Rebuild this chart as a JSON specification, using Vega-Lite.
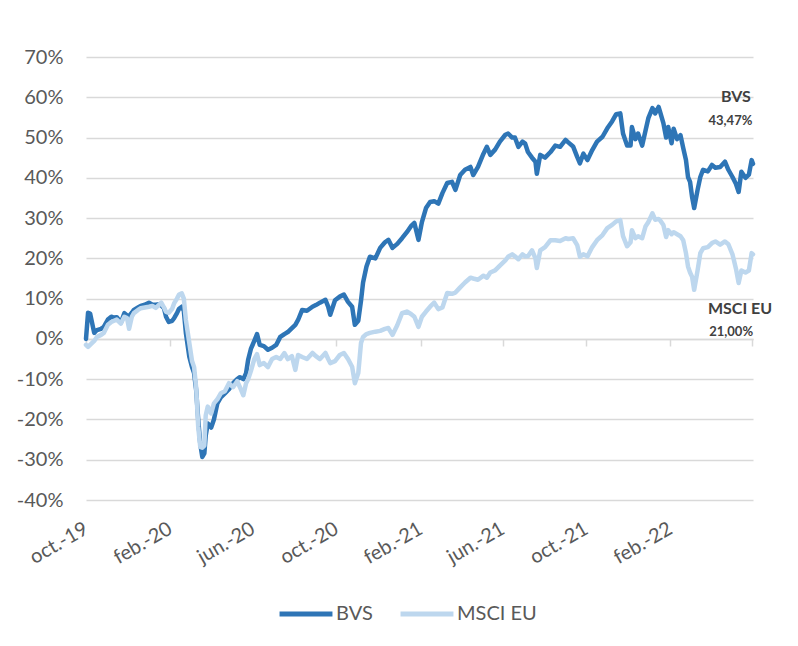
{
  "$schema": "https://vega.github.io/schema/vega-lite/v6.json",
  "width": 667,
  "height": 443,
  "autosize": {"type": "none"},
  "padding": {"left": 86, "top": 57, "right": 45, "bottom": 146},
  "background": "white",
  "config": {
    "font": "Lato",
    "view": {"stroke": null},
    "axisY": {
      "values": [-40, -30, -20, -10, 0, 10, 20, 30, 40, 50, 60, 70],
      "labelExpr": "datum.value + '%'",
      "grid": true,
      "gridColor": "#D9D9D9",
      "gridWidth": 1.5,
      "domain": false,
      "ticks": false,
      "tickSize": 0,
      "labelPadding": 23,
      "labelFont": "Lato",
      "labelFontSize": 20,
      "labelColor": "#595959",
      "title": null
    }
  },
  "datasets": {
    "series": [
      {"fecha":"2019-10-01","BVS":0,"MSCI EU":-1.5},
      {"fecha":"2019-10-04","BVS":6.5,"MSCI EU":-2},
      {"fecha":"2019-10-07","BVS":6.3,"MSCI EU":-1.5},
      {"fecha":"2019-10-13","BVS":1.5,"MSCI EU":-0.5},
      {"fecha":"2019-10-17","BVS":2.2,"MSCI EU":0.5},
      {"fecha":"2019-10-23","BVS":2.5,"MSCI EU":1},
      {"fecha":"2019-10-27","BVS":3,"MSCI EU":1.5},
      {"fecha":"2019-11-02","BVS":4.8,"MSCI EU":3.5},
      {"fecha":"2019-11-07","BVS":5.5,"MSCI EU":4.2},
      {"fecha":"2019-11-11","BVS":5.3,"MSCI EU":4.5},
      {"fecha":"2019-11-15","BVS":5.4,"MSCI EU":4.8},
      {"fecha":"2019-11-21","BVS":4,"MSCI EU":3.8},
      {"fecha":"2019-11-26","BVS":6.4,"MSCI EU":5.5},
      {"fecha":"2019-11-30","BVS":5.8,"MSCI EU":5.2},
      {"fecha":"2019-12-03","BVS":5.7,"MSCI EU":2.5},
      {"fecha":"2019-12-07","BVS":6.5,"MSCI EU":5.5},
      {"fecha":"2019-12-10","BVS":7.2,"MSCI EU":6.4},
      {"fecha":"2019-12-16","BVS":7.8,"MSCI EU":7.2},
      {"fecha":"2019-12-20","BVS":8.2,"MSCI EU":7.6},
      {"fecha":"2019-12-26","BVS":8.5,"MSCI EU":7.8},
      {"fecha":"2020-01-01","BVS":9,"MSCI EU":8},
      {"fecha":"2020-01-06","BVS":8.5,"MSCI EU":8.2},
      {"fecha":"2020-01-11","BVS":8.5,"MSCI EU":7.7},
      {"fecha":"2020-01-16","BVS":8.6,"MSCI EU":8.5},
      {"fecha":"2020-01-19","BVS":8.3,"MSCI EU":9},
      {"fecha":"2020-01-23","BVS":7.6,"MSCI EU":7.8},
      {"fecha":"2020-01-26","BVS":5.5,"MSCI EU":6.7},
      {"fecha":"2020-01-30","BVS":4.2,"MSCI EU":6.5},
      {"fecha":"2020-02-04","BVS":4.5,"MSCI EU":7.5},
      {"fecha":"2020-02-07","BVS":5.2,"MSCI EU":8.9},
      {"fecha":"2020-02-11","BVS":6.4,"MSCI EU":10},
      {"fecha":"2020-02-14","BVS":7.5,"MSCI EU":11},
      {"fecha":"2020-02-18","BVS":8,"MSCI EU":11.3},
      {"fecha":"2020-02-21","BVS":7,"MSCI EU":10},
      {"fecha":"2020-02-24","BVS":1.5,"MSCI EU":4.7},
      {"fecha":"2020-02-29","BVS":-4.4,"MSCI EU":-1},
      {"fecha":"2020-03-04","BVS":-7,"MSCI EU":-5.5},
      {"fecha":"2020-03-07","BVS":-8.5,"MSCI EU":-7},
      {"fecha":"2020-03-10","BVS":-12.6,"MSCI EU":-12},
      {"fecha":"2020-03-13","BVS":-20,"MSCI EU":-21.8},
      {"fecha":"2020-03-16","BVS":-26,"MSCI EU":-26.8},
      {"fecha":"2020-03-19","BVS":-29.3,"MSCI EU":-27},
      {"fecha":"2020-03-22","BVS":-28.4,"MSCI EU":-26.5},
      {"fecha":"2020-03-24","BVS":-24,"MSCI EU":-19},
      {"fecha":"2020-03-27","BVS":-21,"MSCI EU":-16.8},
      {"fecha":"2020-04-01","BVS":-22,"MSCI EU":-18.5},
      {"fecha":"2020-04-05","BVS":-20,"MSCI EU":-16},
      {"fecha":"2020-04-10","BVS":-16,"MSCI EU":-15},
      {"fecha":"2020-04-15","BVS":-14.5,"MSCI EU":-13.5},
      {"fecha":"2020-04-21","BVS":-13.5,"MSCI EU":-13},
      {"fecha":"2020-04-27","BVS":-12.5,"MSCI EU":-11},
      {"fecha":"2020-05-03","BVS":-11,"MSCI EU":-12},
      {"fecha":"2020-05-09","BVS":-10,"MSCI EU":-10.5},
      {"fecha":"2020-05-13","BVS":-9.5,"MSCI EU":-12},
      {"fecha":"2020-05-18","BVS":-10,"MSCI EU":-14},
      {"fecha":"2020-05-22","BVS":-8.5,"MSCI EU":-11},
      {"fecha":"2020-05-25","BVS":-5.2,"MSCI EU":-10},
      {"fecha":"2020-05-29","BVS":-2.5,"MSCI EU":-8},
      {"fecha":"2020-06-03","BVS":-0.5,"MSCI EU":-5},
      {"fecha":"2020-06-07","BVS":1.2,"MSCI EU":-3.8},
      {"fecha":"2020-06-11","BVS":-1.5,"MSCI EU":-6.5},
      {"fecha":"2020-06-17","BVS":-1.8,"MSCI EU":-6},
      {"fecha":"2020-06-23","BVS":-2.7,"MSCI EU":-7},
      {"fecha":"2020-06-29","BVS":-2.2,"MSCI EU":-5},
      {"fecha":"2020-07-05","BVS":-1.5,"MSCI EU":-4.5},
      {"fecha":"2020-07-11","BVS":0.5,"MSCI EU":-5},
      {"fecha":"2020-07-17","BVS":1.2,"MSCI EU":-3.5},
      {"fecha":"2020-07-22","BVS":1.7,"MSCI EU":-5},
      {"fecha":"2020-07-28","BVS":2.7,"MSCI EU":-4.3},
      {"fecha":"2020-08-02","BVS":3.5,"MSCI EU":-7.7},
      {"fecha":"2020-08-06","BVS":4.7,"MSCI EU":-4},
      {"fecha":"2020-08-12","BVS":7.2,"MSCI EU":-4.5},
      {"fecha":"2020-08-19","BVS":7,"MSCI EU":-5},
      {"fecha":"2020-08-27","BVS":8,"MSCI EU":-3.5},
      {"fecha":"2020-09-01","BVS":8.4,"MSCI EU":-4.3},
      {"fecha":"2020-09-07","BVS":9,"MSCI EU":-5},
      {"fecha":"2020-09-15","BVS":9.7,"MSCI EU":-3.5},
      {"fecha":"2020-09-19","BVS":8,"MSCI EU":-5},
      {"fecha":"2020-09-22","BVS":6,"MSCI EU":-6},
      {"fecha":"2020-09-29","BVS":9.6,"MSCI EU":-5.5},
      {"fecha":"2020-10-06","BVS":10.5,"MSCI EU":-4},
      {"fecha":"2020-10-12","BVS":11,"MSCI EU":-3.5},
      {"fecha":"2020-10-18","BVS":9.2,"MSCI EU":-5},
      {"fecha":"2020-10-24","BVS":8,"MSCI EU":-6.9},
      {"fecha":"2020-10-28","BVS":3.5,"MSCI EU":-11},
      {"fecha":"2020-11-02","BVS":4.5,"MSCI EU":-8.5},
      {"fecha":"2020-11-06","BVS":9.5,"MSCI EU":-1},
      {"fecha":"2020-11-09","BVS":14,"MSCI EU":0.5},
      {"fecha":"2020-11-14","BVS":18,"MSCI EU":1.2},
      {"fecha":"2020-11-19","BVS":20.4,"MSCI EU":1.5},
      {"fecha":"2020-11-27","BVS":20,"MSCI EU":1.8},
      {"fecha":"2020-12-04","BVS":22.6,"MSCI EU":2},
      {"fecha":"2020-12-11","BVS":24,"MSCI EU":2.5},
      {"fecha":"2020-12-16","BVS":24.6,"MSCI EU":2.7},
      {"fecha":"2020-12-22","BVS":22.6,"MSCI EU":1},
      {"fecha":"2020-12-29","BVS":23.6,"MSCI EU":3.4},
      {"fecha":"2021-01-05","BVS":25,"MSCI EU":6.4},
      {"fecha":"2021-01-12","BVS":26.5,"MSCI EU":6.8},
      {"fecha":"2021-01-18","BVS":28,"MSCI EU":6.2},
      {"fecha":"2021-01-23","BVS":28.8,"MSCI EU":5.5},
      {"fecha":"2021-01-29","BVS":24.6,"MSCI EU":3},
      {"fecha":"2021-02-03","BVS":29,"MSCI EU":5.5},
      {"fecha":"2021-02-09","BVS":32.5,"MSCI EU":6.8},
      {"fecha":"2021-02-15","BVS":34,"MSCI EU":8},
      {"fecha":"2021-02-21","BVS":34.2,"MSCI EU":9},
      {"fecha":"2021-02-27","BVS":33.6,"MSCI EU":7.4},
      {"fecha":"2021-03-05","BVS":36.2,"MSCI EU":7.8},
      {"fecha":"2021-03-12","BVS":38.7,"MSCI EU":11.4},
      {"fecha":"2021-03-19","BVS":39,"MSCI EU":11.2},
      {"fecha":"2021-03-24","BVS":37,"MSCI EU":11.5},
      {"fecha":"2021-03-31","BVS":40.7,"MSCI EU":12.8},
      {"fecha":"2021-04-07","BVS":42,"MSCI EU":14},
      {"fecha":"2021-04-15","BVS":42.7,"MSCI EU":15.2},
      {"fecha":"2021-04-19","BVS":40.7,"MSCI EU":15},
      {"fecha":"2021-04-26","BVS":42.7,"MSCI EU":14.7},
      {"fecha":"2021-05-04","BVS":46,"MSCI EU":15.7},
      {"fecha":"2021-05-09","BVS":47.7,"MSCI EU":15.2},
      {"fecha":"2021-05-14","BVS":45.7,"MSCI EU":16.5},
      {"fecha":"2021-05-21","BVS":47,"MSCI EU":17},
      {"fecha":"2021-05-28","BVS":49,"MSCI EU":18.2},
      {"fecha":"2021-06-05","BVS":50.7,"MSCI EU":19.5},
      {"fecha":"2021-06-09","BVS":51,"MSCI EU":20.4},
      {"fecha":"2021-06-15","BVS":50,"MSCI EU":21},
      {"fecha":"2021-06-19","BVS":50,"MSCI EU":20.5},
      {"fecha":"2021-06-24","BVS":47.7,"MSCI EU":19.8},
      {"fecha":"2021-06-30","BVS":49,"MSCI EU":21},
      {"fecha":"2021-07-04","BVS":48.5,"MSCI EU":20.5},
      {"fecha":"2021-07-08","BVS":46.4,"MSCI EU":20.5},
      {"fecha":"2021-07-14","BVS":45,"MSCI EU":22},
      {"fecha":"2021-07-19","BVS":44,"MSCI EU":20},
      {"fecha":"2021-07-21","BVS":41,"MSCI EU":17.6},
      {"fecha":"2021-07-26","BVS":45.7,"MSCI EU":22},
      {"fecha":"2021-08-02","BVS":45,"MSCI EU":22.8},
      {"fecha":"2021-08-10","BVS":46.4,"MSCI EU":24.5},
      {"fecha":"2021-08-17","BVS":48,"MSCI EU":24.5},
      {"fecha":"2021-08-24","BVS":47.7,"MSCI EU":24.3},
      {"fecha":"2021-09-01","BVS":49.4,"MSCI EU":25},
      {"fecha":"2021-09-05","BVS":48.8,"MSCI EU":24.8},
      {"fecha":"2021-09-12","BVS":47.8,"MSCI EU":25},
      {"fecha":"2021-09-18","BVS":45.2,"MSCI EU":23.3},
      {"fecha":"2021-09-22","BVS":43.6,"MSCI EU":20.4},
      {"fecha":"2021-09-27","BVS":46,"MSCI EU":21},
      {"fecha":"2021-10-03","BVS":44.4,"MSCI EU":20.5},
      {"fecha":"2021-10-10","BVS":46.9,"MSCI EU":22.8},
      {"fecha":"2021-10-17","BVS":49,"MSCI EU":24.5},
      {"fecha":"2021-10-25","BVS":50.2,"MSCI EU":25.8},
      {"fecha":"2021-11-01","BVS":52.3,"MSCI EU":27.5},
      {"fecha":"2021-11-08","BVS":54,"MSCI EU":28.3},
      {"fecha":"2021-11-14","BVS":55.8,"MSCI EU":29.2},
      {"fecha":"2021-11-20","BVS":56,"MSCI EU":29.5},
      {"fecha":"2021-11-24","BVS":51,"MSCI EU":25.5},
      {"fecha":"2021-11-30","BVS":48,"MSCI EU":23},
      {"fecha":"2021-12-05","BVS":48,"MSCI EU":24},
      {"fecha":"2021-12-07","BVS":52.6,"MSCI EU":27},
      {"fecha":"2021-12-12","BVS":49.6,"MSCI EU":25},
      {"fecha":"2021-12-16","BVS":51,"MSCI EU":25.5},
      {"fecha":"2021-12-22","BVS":48,"MSCI EU":25},
      {"fecha":"2021-12-27","BVS":51.8,"MSCI EU":28},
      {"fecha":"2021-12-31","BVS":54.8,"MSCI EU":29},
      {"fecha":"2022-01-06","BVS":57.3,"MSCI EU":31.2},
      {"fecha":"2022-01-10","BVS":56,"MSCI EU":29.6},
      {"fecha":"2022-01-15","BVS":57.6,"MSCI EU":29.8},
      {"fecha":"2022-01-17","BVS":56.5,"MSCI EU":29.5},
      {"fecha":"2022-01-22","BVS":53.6,"MSCI EU":28.3},
      {"fecha":"2022-01-26","BVS":50,"MSCI EU":25.3},
      {"fecha":"2022-01-29","BVS":52.6,"MSCI EU":27},
      {"fecha":"2022-02-03","BVS":48.6,"MSCI EU":26},
      {"fecha":"2022-02-06","BVS":52.2,"MSCI EU":26.5},
      {"fecha":"2022-02-11","BVS":49.6,"MSCI EU":26},
      {"fecha":"2022-02-16","BVS":50.6,"MSCI EU":25.5},
      {"fecha":"2022-02-20","BVS":47.4,"MSCI EU":24.5},
      {"fecha":"2022-02-24","BVS":44.4,"MSCI EU":21.3},
      {"fecha":"2022-02-27","BVS":40.2,"MSCI EU":18},
      {"fecha":"2022-03-02","BVS":39,"MSCI EU":16.5},
      {"fecha":"2022-03-05","BVS":35.2,"MSCI EU":15.4},
      {"fecha":"2022-03-08","BVS":32.5,"MSCI EU":12.2},
      {"fecha":"2022-03-13","BVS":37,"MSCI EU":17},
      {"fecha":"2022-03-17","BVS":40.2,"MSCI EU":21.3},
      {"fecha":"2022-03-21","BVS":42,"MSCI EU":22.5},
      {"fecha":"2022-03-28","BVS":41.6,"MSCI EU":22.8},
      {"fecha":"2022-04-03","BVS":43.2,"MSCI EU":23.8},
      {"fecha":"2022-04-08","BVS":42.5,"MSCI EU":24.2},
      {"fecha":"2022-04-15","BVS":42.7,"MSCI EU":23.4},
      {"fecha":"2022-04-22","BVS":44,"MSCI EU":24.2},
      {"fecha":"2022-04-27","BVS":42,"MSCI EU":23.5},
      {"fecha":"2022-05-03","BVS":40.2,"MSCI EU":21},
      {"fecha":"2022-05-08","BVS":38.5,"MSCI EU":17.5},
      {"fecha":"2022-05-12","BVS":36.5,"MSCI EU":13.9},
      {"fecha":"2022-05-16","BVS":41.5,"MSCI EU":17},
      {"fecha":"2022-05-22","BVS":40,"MSCI EU":16.5},
      {"fecha":"2022-05-27","BVS":40.8,"MSCI EU":17},
      {"fecha":"2022-05-31","BVS":44.4,"MSCI EU":21.3},
      {"fecha":"2022-06-02","BVS":43.47,"MSCI EU":21.0}
    ],
    "notas": [
      {"fecha":"2022-05-08","valor":60.0,"texto":"BVS","tipo":"serie"},
      {"fecha":"2022-04-30","valor":54.1,"texto":"43,47%","tipo":"dato"},
      {"fecha":"2022-05-14","valor":7.4,"texto":"MSCI EU","tipo":"serie"},
      {"fecha":"2022-05-01","valor":1.7,"texto":"21,00%","tipo":"dato"}
    ]
  },
  "layer": [
    {
      "data": {"name": "series"},
      "transform": [
        {"fold": ["BVS", "MSCI EU"], "as": ["serie", "valor"]},
        {"filter": "datum.serie === 'BVS'"}
      ],
      "mark": {"type": "line", "strokeWidth": 4.5, "strokeJoin": "round", "strokeCap": "round"},
      "encoding": {
        "x": {
          "field": "fecha", "type": "temporal",
          "scale": {"domain": [{"year": 2019, "month": 10, "date": 1}, {"year": 2022, "month": 6, "date": 2}]},
          "axis": {
            "orient": "bottom",
            "values": [
              {"year": 2019, "month": 10, "date": 1},
              {"year": 2020, "month": 2, "date": 1},
              {"year": 2020, "month": 6, "date": 1},
              {"year": 2020, "month": 10, "date": 1},
              {"year": 2021, "month": 2, "date": 1},
              {"year": 2021, "month": 6, "date": 1},
              {"year": 2021, "month": 10, "date": 1},
              {"year": 2022, "month": 2, "date": 1}
            ],
            "labelExpr": "lower(timeFormat(datum.value, '%b')) + '.-' + timeFormat(datum.value, '%y')",
            "labelAngle": -30,
            "labelAlign": "right",
            "labelBaseline": "middle",
            "labelPadding": 27,
            "labelFont": "Lato",
            "labelFontSize": 20,
            "labelColor": "#595959",
            "labelOverlap": false,
            "labelBound": false,
            "labelFlush": false,
            "domain": false,
            "ticks": false,
            "tickSize": 0,
            "grid": false,
            "title": null
          }
        },
        "y": {
          "field": "valor", "type": "quantitative",
          "scale": {"domain": [-40, 70], "nice": false, "zero": false},
          "axis": {"title": null}
        },
        "color": {
          "field": "serie", "type": "nominal",
          "scale": {"domain": ["BVS", "MSCI EU"], "range": ["#2E75B6", "#BDD7EE"]},
          "legend": {
            "orient": "none",
            "legendX": 191,
            "legendY": 528,
            "direction": "horizontal",
            "title": null,
            "symbolType": "stroke",
            "symbolStrokeWidth": 5,
            "symbolSize": 2800,
            "labelFont": "Lato",
            "labelFontSize": 20,
            "labelColor": "#595959",
            "labelOffset": 1,
            "columnPadding": 17
          }
        }
      }
    },
    {
      "data": {"name": "series"},
      "transform": [
        {"fold": ["BVS", "MSCI EU"], "as": ["serie", "valor"]},
        {"filter": "datum.serie === 'MSCI EU'"}
      ],
      "mark": {"type": "line", "strokeWidth": 4.5, "strokeJoin": "round", "strokeCap": "round"},
      "encoding": {
        "x": {
          "field": "fecha", "type": "temporal",
          "axis": {
            "orient": "bottom",
            "offset": -161,
            "values": [
              {"year": 2019, "month": 10, "date": 1},
              {"year": 2020, "month": 2, "date": 1},
              {"year": 2020, "month": 6, "date": 1},
              {"year": 2020, "month": 10, "date": 1},
              {"year": 2021, "month": 2, "date": 1},
              {"year": 2021, "month": 6, "date": 1},
              {"year": 2021, "month": 10, "date": 1},
              {"year": 2022, "month": 2, "date": 1},
              {"year": 2022, "month": 6, "date": 1}
            ],
            "labels": false,
            "domain": true,
            "domainColor": "#D9D9D9",
            "domainWidth": 1.5,
            "ticks": true,
            "tickColor": "#D9D9D9",
            "tickWidth": 1.5,
            "tickSize": 7,
            "grid": false,
            "title": null
          }
        },
        "y": {"field": "valor", "type": "quantitative", "axis": {"title": null}},
        "color": {"field": "serie", "type": "nominal"}
      }
    },
    {
      "data": {"name": "notas"},
      "transform": [{"filter": "datum.tipo === 'serie'"}],
      "mark": {"type": "text", "font": "Lato", "fontSize": 16, "fontWeight": "bold", "color": "#404040", "align": "center", "baseline": "middle"},
      "encoding": {
        "x": {"field": "fecha", "type": "temporal", "axis": null},
        "y": {"field": "valor", "type": "quantitative", "axis": {"title": null}},
        "text": {"field": "texto"}
      }
    },
    {
      "data": {"name": "notas"},
      "transform": [{"filter": "datum.tipo === 'dato'"}],
      "mark": {"type": "text", "font": "Lato", "fontSize": 13, "fontWeight": "bold", "color": "#404040", "align": "center", "baseline": "middle"},
      "encoding": {
        "x": {"field": "fecha", "type": "temporal", "axis": null},
        "y": {"field": "valor", "type": "quantitative", "axis": {"title": null}},
        "text": {"field": "texto"}
      }
    }
  ],
  "resolve": {"axis": {"x": "independent"}}
}
